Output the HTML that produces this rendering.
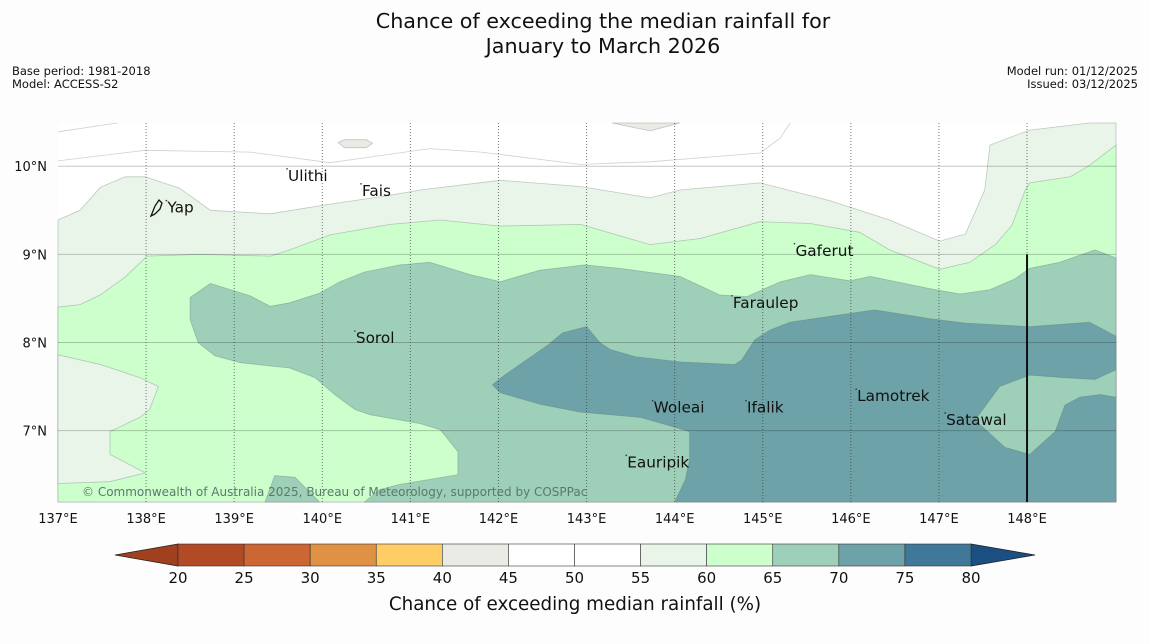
<!DOCTYPE html>
<html><head><meta charset="utf-8"><style>
html,body{margin:0;padding:0;background:#fdfdfd;}
svg{display:block;font-family:"DejaVu Sans","Liberation Sans",sans-serif;}
</style></head><body>
<svg id="chart" width="1150" height="644" viewBox="0 0 1150 644" xmlns="http://www.w3.org/2000/svg">
<rect x="0" y="0" width="1150" height="644" fill="#fdfdfd"/>
<text x="603" y="28" text-anchor="middle" font-size="20.7" fill="#111">Chance of exceeding the median rainfall for</text>
<text x="603" y="53" text-anchor="middle" font-size="20.7" fill="#111">January to March 2026</text>
<text x="12" y="75" font-size="11.5" fill="#111">Base period: 1981-2018</text>
<text x="12" y="88" font-size="11.5" fill="#111">Model: ACCESS-S2</text>
<text x="1138" y="75" text-anchor="end" font-size="11.5" fill="#111">Model run: 01/12/2025</text>
<text x="1138" y="88" text-anchor="end" font-size="11.5" fill="#111">Issued: 03/12/2025</text>
<g id="map"></g>
<g id="cbar"></g>
</svg>
<script>
// Axis extents
const lonMin = 137, lonMax = 149.01, latMin = 6.19, latMax = 10.49;
const lonTicks = [137,138,139,140,141,142,143,144,145,146,147,148];
const latTicks = [10,9,8,7];
const levelBounds = [20,25,30,35,40,45,50,55,60,65,70,75,80];
const levelColors = ["#b34a26","#cc6633","#e09244","#ffcc66","#ebebe6","#ffffff","#ffffff","#eaf5ea","#ccffcc","#9ecfb8","#6da3a8","#3f7898"];
const underColor = "#a0401e", overColor = "#1b4f82";

// Contour polygons (lon, lat)
const band5560Top = [[137.00,9.39],[137.25,9.50],[137.48,9.76],[137.76,9.88],[137.99,9.88],[138.38,9.75],[138.73,9.50],[139.41,9.46],[140.09,9.57],[140.77,9.67],[141.11,9.73],[142.02,9.84],[142.93,9.77],[143.72,9.64],[144.06,9.73],[144.97,9.81],[145.76,9.61],[146.44,9.39],[147.01,9.15],[147.30,9.23],[147.52,9.73],[147.58,10.24],[148.03,10.41],[148.71,10.49],[149.01,10.49]];
const band6065Top = [[137.00,8.40],[137.25,8.43],[137.48,8.54],[137.76,8.74],[138.01,8.98],[138.61,9.00],[139.41,8.98],[139.63,9.05],[140.09,9.22],[140.77,9.34],[141.34,9.39],[142.02,9.32],[142.93,9.34],[143.72,9.11],[144.29,9.18],[144.97,9.37],[145.54,9.35],[146.10,9.25],[146.44,9.05],[147.01,8.83],[147.35,8.91],[147.64,9.11],[147.83,9.33],[147.98,9.73],[148.03,9.81],[148.49,9.88],[148.71,10.01],[149.01,10.24]];
const pocket5560 = [[137.00,7.86],[137.48,7.75],[137.93,7.60],[138.14,7.50],[138.04,7.24],[137.93,7.15],[137.59,6.99],[137.59,6.73],[137.99,6.52],[137.59,6.42],[137.00,6.40]];
const blob6570 = [[138.50,8.51],[138.73,8.67],[139.18,8.53],[139.41,8.41],[139.63,8.45],[139.97,8.56],[140.20,8.69],[140.48,8.80],[140.88,8.88],[141.22,8.91],[141.68,8.77],[142.02,8.69],[142.47,8.82],[142.98,8.88],[143.38,8.84],[144.06,8.75],[144.51,8.54],[144.82,8.52],[145.20,8.69],[145.54,8.77],[145.99,8.70],[146.22,8.75],[146.90,8.61],[147.24,8.55],[147.58,8.60],[147.86,8.72],[148.03,8.84],[148.37,8.91],[148.77,9.05],[149.01,8.96],[149.01,6.19],[140.48,6.19],[140.65,6.33],[140.88,6.39],[141.54,6.50],[141.54,6.76],[141.34,7.01],[141.11,7.08],[140.54,7.18],[140.37,7.24],[140.14,7.41],[139.92,7.60],[139.63,7.71],[139.07,7.77],[138.78,7.85],[138.59,8.00],[138.50,8.26]];
const small6570 = [[139.35,6.19],[139.46,6.49],[139.69,6.47],[139.97,6.19]];
const blob7075 = [[141.93,7.52],[142.07,7.63],[142.56,7.97],[142.73,8.11],[143.00,8.18],[143.15,8.00],[143.27,7.92],[143.55,7.84],[144.06,7.78],[144.68,7.75],[144.76,7.80],[144.91,8.03],[145.08,8.14],[145.31,8.23],[145.65,8.28],[146.27,8.37],[146.90,8.27],[147.30,8.22],[148.03,8.18],[148.71,8.23],[149.01,8.07],[149.01,6.19],[144.00,6.19],[144.12,6.44],[144.17,6.67],[144.17,6.99],[143.89,7.07],[143.61,7.15],[142.93,7.21],[142.47,7.30],[142.02,7.43]];
const patch6570 = [[149.01,7.69],[148.77,7.58],[148.43,7.60],[148.03,7.63],[147.69,7.50],[147.58,7.35],[147.41,7.12],[147.75,6.81],[148.03,6.73],[148.32,6.99],[148.43,7.29],[148.60,7.38],[148.83,7.41],[149.01,7.38]];
const grey4045a = [[140.18,10.27],[140.25,10.30],[140.50,10.30],[140.57,10.26],[140.50,10.21],[140.25,10.21]];
const grey4045b = [[143.29,10.49],[144.06,10.49],[143.72,10.40]];
const whiteLineA = [[137.00,10.06],[137.99,10.18],[139.18,10.16],[140.09,10.04],[141.22,10.20],[141.80,10.16],[142.93,10.02],[143.72,10.05],[144.97,10.15],[145.20,10.32],[145.31,10.49]];
const whiteLineB = [[137.00,10.39],[137.67,10.49]];

// Places
const placeNames = ["Ulithi","Fais","Yap","Gaferut","Faraulep","Sorol","Woleai","Ifalik","Lamotrek","Satawal","Eauripik"];
const placeLon = [139.60,140.44,138.23,145.36,144.65,140.37,143.75,144.81,146.06,147.07,143.45];
const placeLat = [9.97,9.80,9.61,9.12,8.53,8.13,7.34,7.34,7.47,7.20,6.72];

const X0=58, X1=1116, Y0=123, Y1=502;
const xS = lon => X0 + (lon-lonMin)/(lonMax-lonMin)*(X1-X0);
const yS = lat => Y0 + (latMax-lat)/(latMax-latMin)*(Y1-Y0);
const NS="http://www.w3.org/2000/svg";
const map=document.getElementById('map');
function mk(tag,attrs,parent){const e=document.createElementNS(NS,tag);for(const k in attrs)e.setAttribute(k,attrs[k]);parent.appendChild(e);return e;}
function pts(arr){return arr.map(p=>xS(p[0]).toFixed(1)+","+yS(p[1]).toFixed(1)).join(" ");}

let e;
e=mk('rect',{x:X0,y:Y0,width:X1-X0,height:Y1-Y0,fill:levelColors[5]},map);


const bottomR=[[lonMax,latMin],[lonMin,latMin]];
function poly(arr,col,name,closeBottom){
  const a = closeBottom? arr.concat(bottomR):arr;
  const p=mk('polygon',{points:pts(a),fill:col,stroke:"rgba(90,110,100,0.35)","stroke-width":0.8},map);
  
  
}
poly(band5560Top,levelColors[7],'contour-55-60',true);
poly(band6065Top,levelColors[8],'contour-60-65',true);
poly(pocket5560,levelColors[7],'contour-55-60-west',false);
poly(blob6570,levelColors[9],'contour-65-70',false);
poly(small6570,levelColors[9],'contour-65-70-small',false);
poly(blob7075,levelColors[10],'contour-70-75',false);
poly(patch6570,levelColors[9],'contour-65-70-east',false);
poly(grey4045a,levelColors[4],'contour-40-45-a',false);
poly(grey4045b,levelColors[4],'contour-40-45-b',false);
[whiteLineA,whiteLineB].forEach((l,i)=>{
  const pl=mk('polyline',{points:pts(l),fill:"none",stroke:"rgba(120,120,120,0.35)","stroke-width":0.8},map);
  
  
});
latTicks.forEach(t=>{
  const l=mk('line',{x1:X0,x2:X1,y1:yS(t),y2:yS(t),stroke:"rgba(0,0,0,0.22)","stroke-width":1},map);
  
  
  const tx=mk('text',{x:47,y:yS(t)+5,"text-anchor":"end","font-size":13,fill:"#111"},map);
  tx.textContent=t+"°N";
  
  
});
lonTicks.forEach(t=>{
  if(t>lonMin){
    const l=mk('line',{x1:xS(t),x2:xS(t),y1:Y0,y2:Y1,stroke:"rgba(60,60,60,0.7)","stroke-width":1,"stroke-dasharray":"1,2"},map);
    
    
  }
  const tx=mk('text',{x:xS(t),y:523,"text-anchor":"middle","font-size":13,fill:"#111"},map);
  tx.textContent=t+"°E";
  
  
});
e=mk('line',{x1:xS(148),x2:xS(148),y1:yS(9),y2:Y1,stroke:"#111","stroke-width":2},map);


// Yap island outline
e=mk('path',{d:"M151,216 L155,206 L159,200 L162,203 L160,209 L155,214 Z",fill:"none",stroke:"#111","stroke-width":1.3},map);


placeNames.forEach((n,i)=>{
  const d=mk('circle',{cx:xS(placeLon[i]),cy:yS(placeLat[i]),r:0.8,fill:"#333"},map);
  
  
  const tx=mk('text',{x:xS(placeLon[i])+1,y:yS(placeLat[i])+12,"font-size":15.3,fill:"#111"},map);
  tx.textContent=n;
  
  
});
e=mk('text',{x:82,y:496,"font-size":12,fill:"#5a7a6a"},map);
e.textContent="© Commonwealth of Australia 2025, Bureau of Meteorology, supported by COSPPac";



// Colorbar
const cb=document.getElementById('cbar');
const CX0=178, CX1=971, CY0=544, CY1=566;
const cS = v => CX0 + (v-levelBounds[0])/(levelBounds[levelBounds.length-1]-levelBounds[0])*(CX1-CX0);
e=mk('polygon',{points:`${CX0},${CY0} 115,${(CY0+CY1)/2} ${CX0},${CY1}`,fill:underColor,stroke:"#222","stroke-width":0.8},cb);


e=mk('polygon',{points:`${CX1},${CY0} 1035,${(CY0+CY1)/2} ${CX1},${CY1}`,fill:overColor,stroke:"#222","stroke-width":0.8},cb);


levelColors.forEach((c,i)=>{
  const r=mk('rect',{x:cS(levelBounds[i]),y:CY0,width:cS(levelBounds[i+1])-cS(levelBounds[i]),height:CY1-CY0,fill:c,stroke:"#333","stroke-width":0.6},cb);
  
  
});
levelBounds.forEach(v=>{
  const t=mk('text',{x:cS(v),y:583,"text-anchor":"middle","font-size":15,fill:"#111"},cb);
  t.textContent=v;
  
  
});
e=mk('text',{x:575,y:610,"text-anchor":"middle","font-size":18.3,fill:"#111"},cb);
e.textContent="Chance of exceeding median rainfall (%)";


</script>
</body></html>
